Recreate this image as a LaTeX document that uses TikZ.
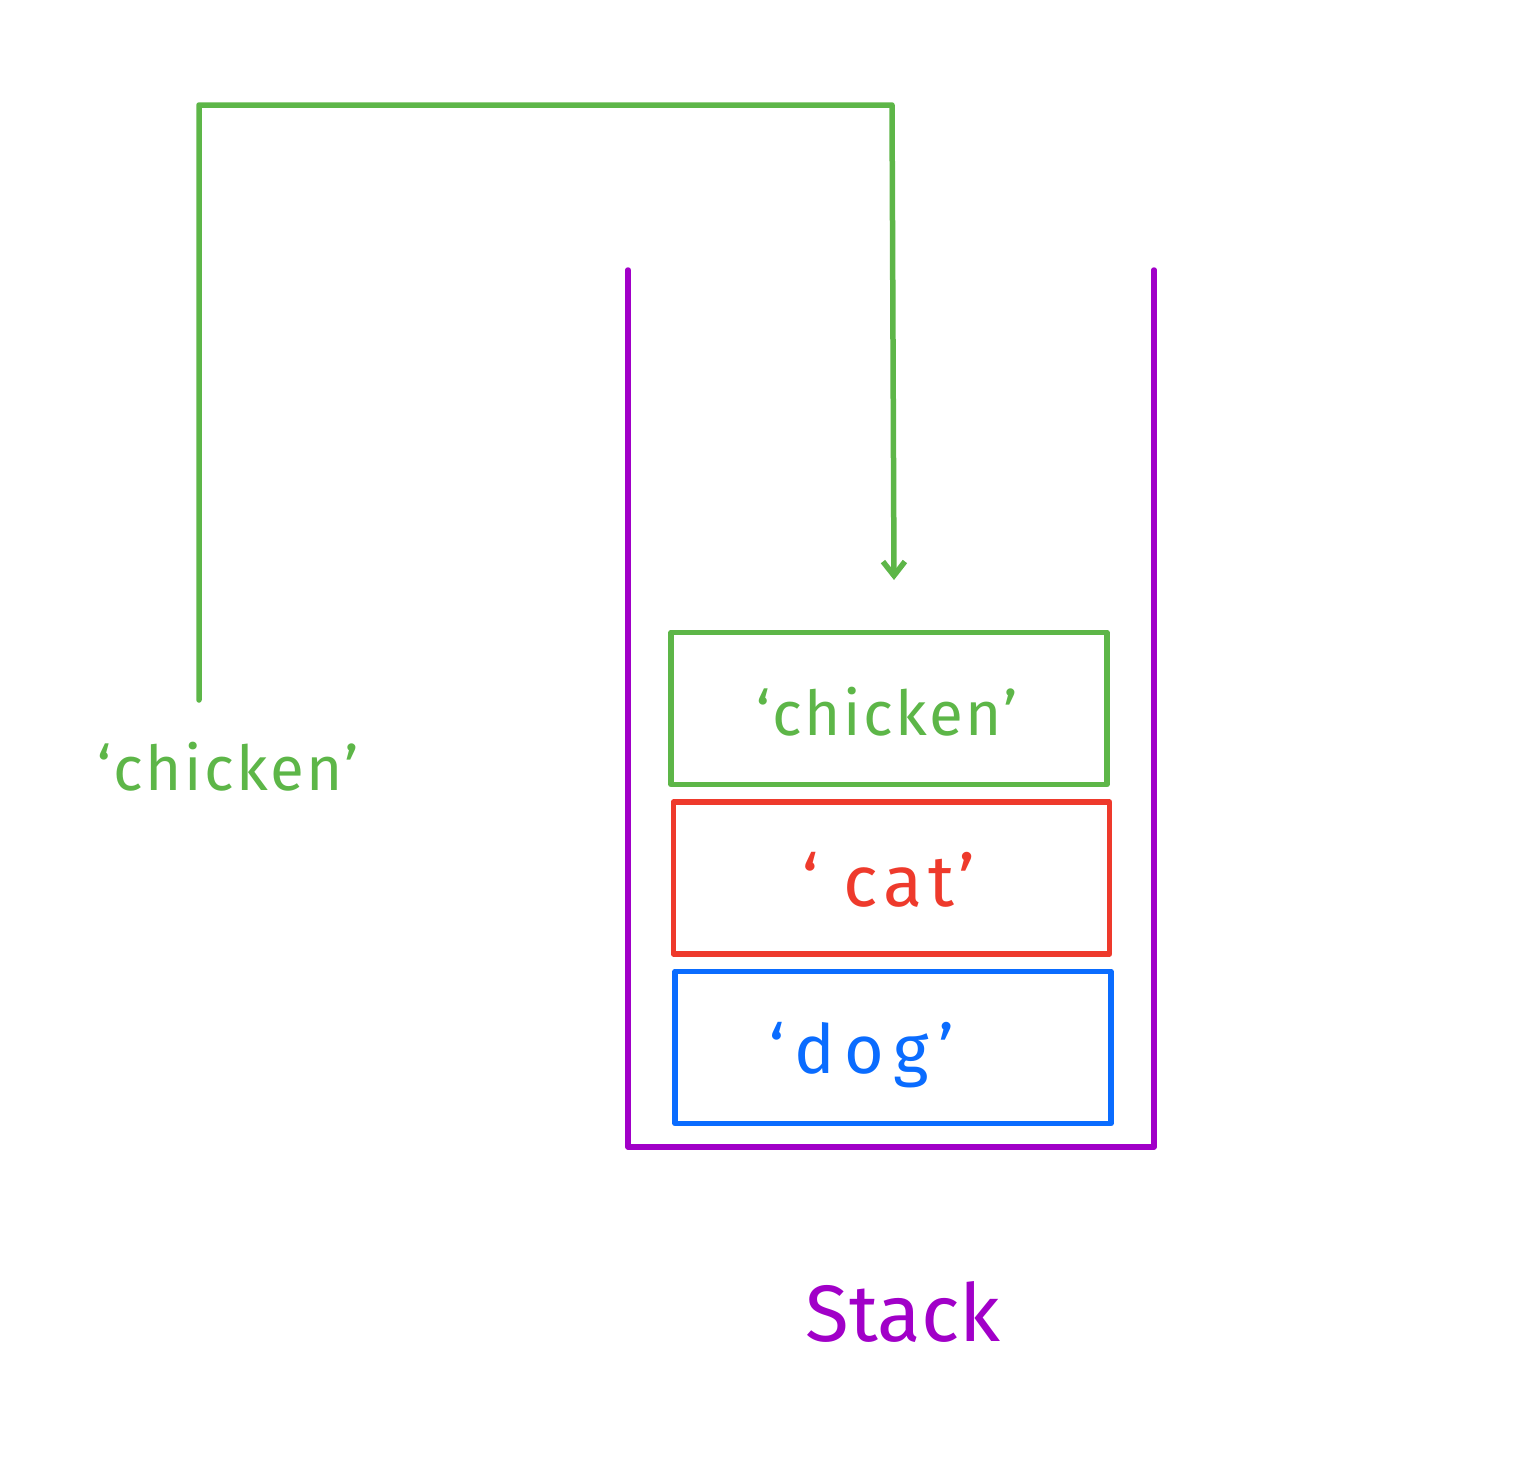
\documentclass[tikz,border=0pt]{standalone}
\usepackage{fontspec}
\setmainfont{Fira Sans}
\usetikzlibrary{arrows.meta}
\definecolor{cgreen}{HTML}{5DB648}
\definecolor{cred}{HTML}{EE3A2C}
\definecolor{cblue}{HTML}{0A6CFF}
\definecolor{cpurple}{HTML}{A100C8}
\begin{document}
\begin{tikzpicture}[x=1pt,y=-1pt,
  ln/.style={line width=5.5pt,line cap=round,line join=round},
  itembox/.style={ln,draw,minimum width=436pt,minimum height=152pt,inner sep=0pt},
  lbl/.style={font=\fontsize{62}{66}\selectfont,inner sep=0pt}]
\useasboundingbox (0,0) rectangle (1538,1462);
% stack container
\draw[ln,cpurple] (628,270) -- (628,1147) -- (1154,1147) -- (1154,270);
% boxes
\node[itembox,cgreen] (bchicken) at (889,708.5) {};
\node[itembox,cred] (bcat) at (891.5,878) {};
\node[itembox,cblue] (bdog) at (893,1047.5) {};
% texts
\node[lbl,text=cgreen] (tchicken) at (887,712) {\addfontfeature{LetterSpace=4}‘chicken’};
\node[lbl,text=cred,font=\fontsize{72}{76}\selectfont] (tcat) at (889,880) {\addfontfeature{LetterSpace=8}‘ cat’};
\node[lbl,text=cblue,font=\fontsize{68}{72}\selectfont] (tdog) at (862,1055) {\addfontfeature{LetterSpace=14}‘dog’};
\node[lbl,text=cpurple,font=\fontsize{80}{84}\selectfont] (tstack) at (903,1312) {Stack};
\node[lbl,text=cgreen] (lchicken) at (228,767) {\addfontfeature{LetterSpace=4}‘chicken’};
% arrow
\coordinate (src) at (199,700);
\coordinate (dst) at (894,580);
\draw[ln,cgreen,-{Straight Barb[length=14pt,width=22pt,line width=5.5pt]}] (src) -- (199,105) -- (892,105) -- (dst);
\end{tikzpicture}
\end{document}
